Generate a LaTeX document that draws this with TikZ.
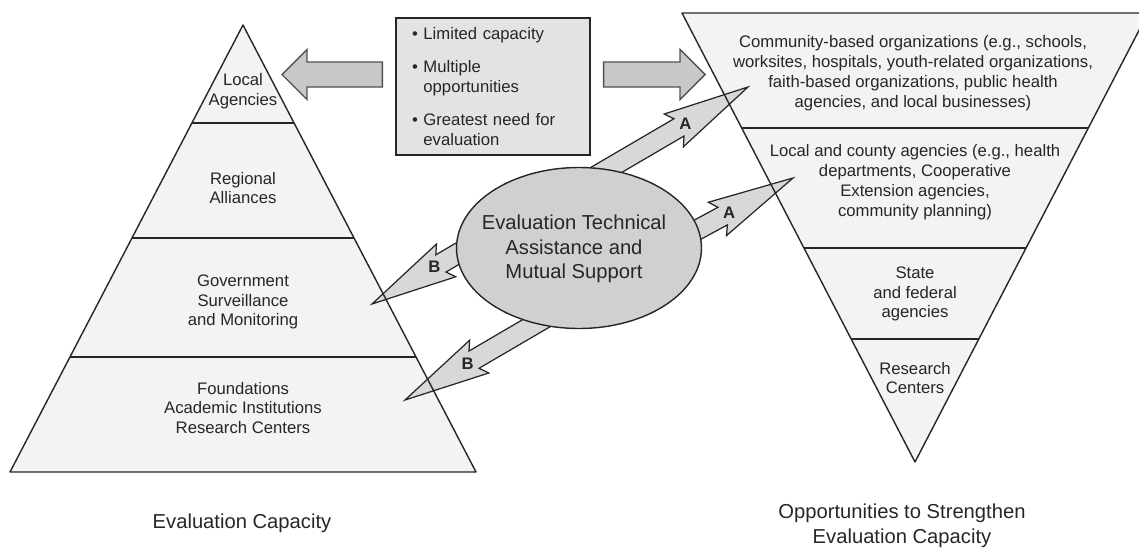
\documentclass[tikz,border=0pt]{standalone}
\usepackage{fontspec}
\setmainfont{Liberation Sans}
\usetikzlibrary{calc,shapes.geometric}
\pgfdeclarelayer{background}
\pgfdeclarelayer{arrows}
\pgfsetlayers{background,arrows,main}

\definecolor{bandgray}{HTML}{F3F3F3}
\definecolor{boxgray}{HTML}{E3E3E3}
\definecolor{fatgray}{HTML}{C8C8C8}
\definecolor{boltgray}{HTML}{D8D8D8}
\definecolor{ovalgray}{HTML}{D0D0D0}
\definecolor{inkgray}{HTML}{262626}

\tikzset{
  every node/.style={font=\fontsize{9.5}{11.3}\selectfont, align=center, inner sep=0pt, text=inkgray},
  big/.style={font=\fontsize{11.5}{14}\selectfont},
  edge/.style={draw=inkgray, line width=0.8pt, line join=round},
  infobox/.style={draw=inkgray, fill=boxgray, line width=0.8pt, text width=3.24cm,
    minimum height=2.74cm, inner xsep=0.32cm, align=left},
  oval/.style={ellipse, draw=inkgray, fill=ovalgray, line width=0.8pt,
    minimum width=4.9cm, minimum height=3.22cm},
  fat/.style={draw=inkgray!80, fill=fatgray, line width=0.8pt, line join=miter},
  bolt/.style={draw=inkgray, fill=boltgray, line width=0.7pt, line join=miter},
  boltlabel/.style={font=\fontsize{9.5}{11}\selectfont\bfseries}
}

% block arrow: tail, tip
\newcommand{\fatarrow}[2]{%
  \path ($(#2)!0.5cm!(#1)$) coordinate (fb);
  \filldraw[fat] ($(#1)!0.25cm!90:(#2)$) -- ($(fb)!0.25cm!90:(#2)$) -- ($(fb)!0.5cm!90:(#2)$) -- (#2)
    -- ($(fb)!0.5cm!-90:(#2)$) -- ($(fb)!0.25cm!-90:(#2)$) -- ($(#1)!0.25cm!-90:(#2)$) -- cycle;
}
% notched arrow: start anchor, tip, label, label name
\newcommand{\boltarrow}[4]{%
  \path ($(#1)!-0.3cm!(#2)$) coordinate (bt)
        ($(#2)!1.6cm!(#1)$) coordinate (hb)
        ($(#2)!1.72cm!(#1)$) coordinate (hk);
  \filldraw[bolt] ($(bt)!0.2cm!90:(#2)$) -- ($(hb)!0.2cm!90:(#2)$) -- ($(hk)!0.38cm!90:(#2)$) -- (#2)
    -- ($(hk)!0.38cm!-90:(#2)$) -- ($(hb)!0.2cm!-90:(#2)$) -- ($(bt)!0.2cm!-90:(#2)$) -- cycle;
  \node[boltlabel] (#4) at ($(hb)!0.15cm!(#2)$) {#3};
}

\begin{document}
\begin{tikzpicture}[x=0.02cm,y=-0.02cm]
  \pgfmathsetmacro\hw{233}   % half base of both triangles
  \clip (0,0) rectangle (1139,548);

% evaluation capacity pyramid
  \coordinate (lt) at (243,25);
  \coordinate (ll) at (243-\hw,472);
  \coordinate (lr) at (243+\hw,472);
  \begin{pgfonlayer}{background}
    \fill[bandgray] (lt) -- (ll) -- (lr) -- cycle;
  \end{pgfonlayer}
  \draw[edge] (lt) -- (ll) -- (lr) -- cycle;
  \foreach \yy in {123,238,357} {
    \pgfmathsetmacro\ff{(\yy-25)/447}
    \draw[edge] ($(lt)!\ff!(ll)$) -- ($(lt)!\ff!(lr)$);
  }
  \node (loc) at (243,91)  {Local\\Agencies};
  \node (reg) at (243,188) {Regional\\Alliances};
  \node (gov) at (243,302) {Government\\Surveillance\\and Monitoring};
  \node (fnd) at (243,408) {Foundations\\Academic Institutions\\Research Centers};
  \node[big] (capL) at (242,523) {Evaluation Capacity};

% opportunities, inverted pyramid
  \coordinate (rb) at (915,462);
  \coordinate (rl) at (915-\hw,13);
  \coordinate (rr) at (915+\hw,13);
  \begin{pgfonlayer}{background}
    \fill[bandgray] (rb) -- (rl) -- (rr) -- cycle;
  \end{pgfonlayer}
  \draw[edge] (rb) -- (rl) -- (rr) -- cycle;
  \foreach \yy in {128,248,339} {
    \pgfmathsetmacro\ff{(462-\yy)/449}
    \draw[edge] ($(rb)!\ff!(rl)$) -- ($(rb)!\ff!(rr)$);
  }
  \node (cbo) at (913,73)  {Community-based organizations (e.g., schools,\\worksites, hospitals, youth-related organizations,\\faith-based organizations, public health\\agencies, and local businesses)};
  \node (lca) at (915,182) {Local and county agencies (e.g., health\\departments, Cooperative\\Extension agencies,\\community planning)};
  \node (sfa) at (915,294) {State\\and federal\\agencies};
  \node (rcn) at (915,378) {Research\\Centers};
  \node[big] (capR) at (902,526) {Opportunities to Strengthen\\Evaluation Capacity};

% box and block arrows
  \node[infobox] (cap) at (493,86.5) {\textbullet\ Limited capacity\\[7.4pt]
    \textbullet\ Multiple\\\hphantom{\textbullet\ }opportunities\\[7.4pt]
    \textbullet\ Greatest need for\\\hphantom{\textbullet\ }evaluation};
  \coordinate (fl) at ($(cap.west)+(-13,-12)$);
  \coordinate (fr) at ($(cap.east)+(13,-12)$);
  \coordinate (flTip) at (282,74.5);
  \coordinate (frTip) at (705,74.5);
  \fatarrow{fl}{flTip}
  \fatarrow{fr}{frTip}

% technical assistance
  \node[oval] (ets) at (579,248) {};
  \node[big] (etsText) at ($(ets.center)+(-5,1)$) {Evaluation Technical\\Assistance and\\Mutual Support};
  \coordinate (tA1) at (748,87);
  \coordinate (tA2) at (793,178);
  \coordinate (tB1) at (372,304);
  \coordinate (tB2) at (405,400);
  \begin{pgfonlayer}{arrows}
    \boltarrow{ets.70}{tA1}{A}{a1}
    \boltarrow{ets.9}{tA2}{A}{a2}
    \boltarrow{ets.183}{tB1}{B}{b1}
    \boltarrow{ets.240}{tB2}{B}{b2}
  \end{pgfonlayer}

\end{tikzpicture}
\end{document}
